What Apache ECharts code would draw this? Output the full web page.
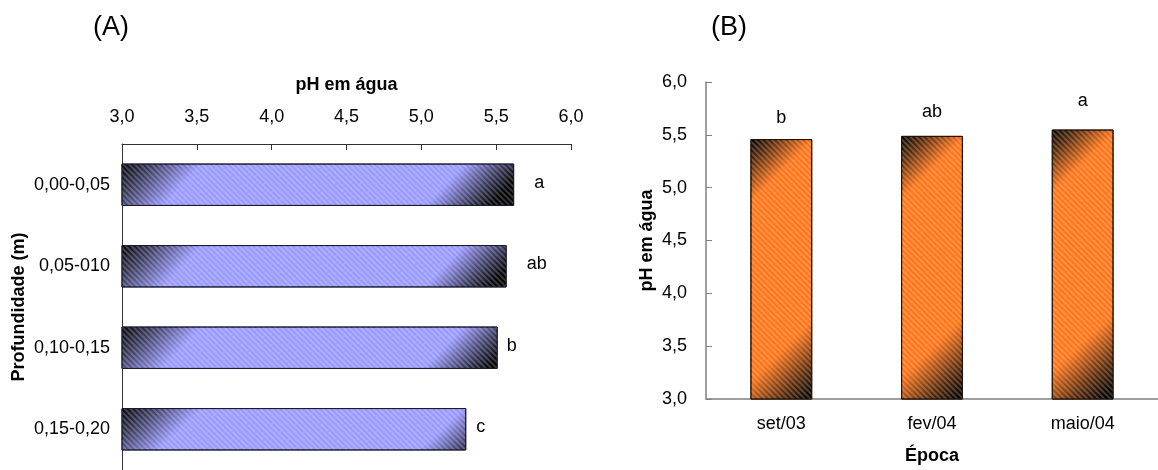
<!DOCTYPE html>
<html>
<head>
<meta charset="utf-8">
<script src="https://cdn.jsdelivr.net/npm/echarts@6/dist/echarts.min.js"></script>
<style>
  html, body { margin: 0; padding: 0; background: #fff; }
  #chart { width: 1158px; height: 470px; }
</style>
</head>
<body>
<div id="chart"></div>
<script>
// (A) soil pH by depth layer
const depthCategories = ['0,00-0,05', '0,05-010', '0,10-0,15', '0,15-0,20'];
const depthPH = [5.62, 5.57, 5.51, 5.30];
const depthLetters = ['a', 'ab', 'b', 'c'];

// (B) soil pH by sampling date
const seasonCategories = ['set/03', 'fev/04', 'maio/04'];
const seasonPH = [5.46, 5.49, 5.55];
const seasonLetters = ['b', 'ab', 'a'];

// shared pH axis range
const phMin = 3.0;
const phMax = 6.0;
const phStep = 0.5;

const FONT = '"Liberation Sans", Arial, sans-serif';
const fmt = v => v.toFixed(1).replace('.', ',');

// label spacing next to each bar
const depthLabelGap = [20, 20, 9, 10];
const seasonLabelGap = [12, 15, 20];

// dark corners fading into the base colour (top-left and bottom-right)
function cornerGradient(base, mid, x2, y2, s1, s2) {
  return {
    type: 'linear', x: 0, y: 0, x2: x2, y2: y2,
    colorStops: [
      { offset: 0, color: '#000000' },
      { offset: s1 * 0.4, color: mid },
      { offset: s1, color: base },
      { offset: s2, color: base },
      { offset: 1 - (1 - s2) * 0.4, color: mid },
      { offset: 1, color: '#000000' }
    ]
  };
}

// thin diagonal hatching laid over the fill
const stripes = {
  symbol: 'rect',
  symbolSize: 1,
  color: 'rgba(255,255,255,0.22)',
  dashArrayX: [1, 0],
  dashArrayY: [2, 2],
  rotation: Math.PI / 4
};

const chart = echarts.init(document.getElementById('chart'), null, { renderer: 'canvas' });

chart.setOption({
  animation: false,
  backgroundColor: '#ffffff',
  textStyle: { fontFamily: FONT },
  graphic: [
    { type: 'text', x: 111, y: 28, style: { text: '(A)', font: '27px "Liberation Sans", Arial, sans-serif', fill: '#000', textAlign: 'center', textVerticalAlign: 'middle' } },
    { type: 'text', x: 729, y: 28, style: { text: '(B)', font: '27px "Liberation Sans", Arial, sans-serif', fill: '#000', textAlign: 'center', textVerticalAlign: 'middle' } }
  ],
  grid: [
    { left: 122, top: 144, width: 449, height: 332 },
    { left: 706, top: 82, width: 460.5, height: 318 }
  ],
  xAxis: [
    {
      gridIndex: 0, type: 'value', position: 'top',
      min: phMin, max: phMax, interval: phStep,
      name: 'pH em água', nameLocation: 'middle', nameGap: 50,
      nameTextStyle: { fontFamily: FONT, fontSize: 18, fontWeight: 'bold', color: '#000' },
      axisLine: { show: true, lineStyle: { color: '#333', width: 1 } },
      axisTick: { show: true, inside: true, length: 6, lineStyle: { color: '#333' } },
      axisLabel: { formatter: fmt, margin: 18, fontFamily: FONT, fontSize: 18, color: '#000' },
      splitLine: { show: false }
    },
    {
      gridIndex: 1, type: 'category', data: seasonCategories,
      name: 'Época', nameLocation: 'middle', nameGap: 48,
      nameTextStyle: { fontFamily: FONT, fontSize: 18, fontWeight: 'bold', color: '#000' },
      axisLine: { show: true, lineStyle: { color: '#808080', width: 1.5 } },
      axisTick: { show: false },
      axisLabel: { margin: 16, fontFamily: FONT, fontSize: 18, color: '#000' }
    }
  ],
  yAxis: [
    {
      gridIndex: 0, type: 'category', data: depthCategories, inverse: true,
      name: 'Profundidade (m)', nameLocation: 'middle', nameGap: 94, nameRotate: 90,
      nameTextStyle: { fontFamily: FONT, fontSize: 18, fontWeight: 'bold', color: '#000' },
      axisLine: { show: true, lineStyle: { color: '#333', width: 1 } },
      axisTick: { show: false },
      axisLabel: { margin: 12, fontFamily: FONT, fontSize: 18, color: '#000' }
    },
    {
      gridIndex: 1, type: 'value',
      min: phMin, max: phMax, interval: phStep,
      name: 'pH em água', nameLocation: 'middle', nameGap: 50, nameRotate: 90,
      nameTextStyle: { fontFamily: FONT, fontSize: 18, fontWeight: 'bold', color: '#000' },
      axisLine: { show: true, lineStyle: { color: '#808080', width: 1.5 } },
      axisTick: { show: true, inside: true, length: 6, lineStyle: { color: '#808080' } },
      axisLabel: { formatter: fmt, margin: 19, fontFamily: FONT, fontSize: 18, color: '#000' },
      splitLine: { show: false }
    }
  ],
  series: [
    {
      type: 'bar', xAxisIndex: 0, yAxisIndex: 0,
      barCategoryGap: '48%',
      data: depthPH.map((v, i) => ({
        value: v,
        label: { distance: depthLabelGap[i], formatter: depthLetters[i] }
      })),
      itemStyle: {
        color: cornerGradient('#9999ff', '#3a3a5e', 0.56, 4.8, 0.2, 0.84),
        borderColor: '#1a1a33', borderWidth: 1,
        decal: stripes
      },
      label: { show: true, position: 'right', fontFamily: FONT, fontSize: 18, color: '#000', offset: [0, -2] }
    },
    {
      type: 'bar', xAxisIndex: 1, yAxisIndex: 1,
      barCategoryGap: '59%',
      data: seasonPH.map((v, i) => ({
        value: v,
        label: { distance: seasonLabelGap[i], formatter: seasonLetters[i] }
      })),
      itemStyle: {
        color: cornerGradient('#ff7416', '#5a2a08', 2.57, 0.62, 0.2, 0.76),
        borderColor: '#221100', borderWidth: 1,
        decal: stripes
      },
      label: { show: true, position: 'top', fontFamily: FONT, fontSize: 18, color: '#000' }
    }
  ]
});
</script>
</body>
</html>
